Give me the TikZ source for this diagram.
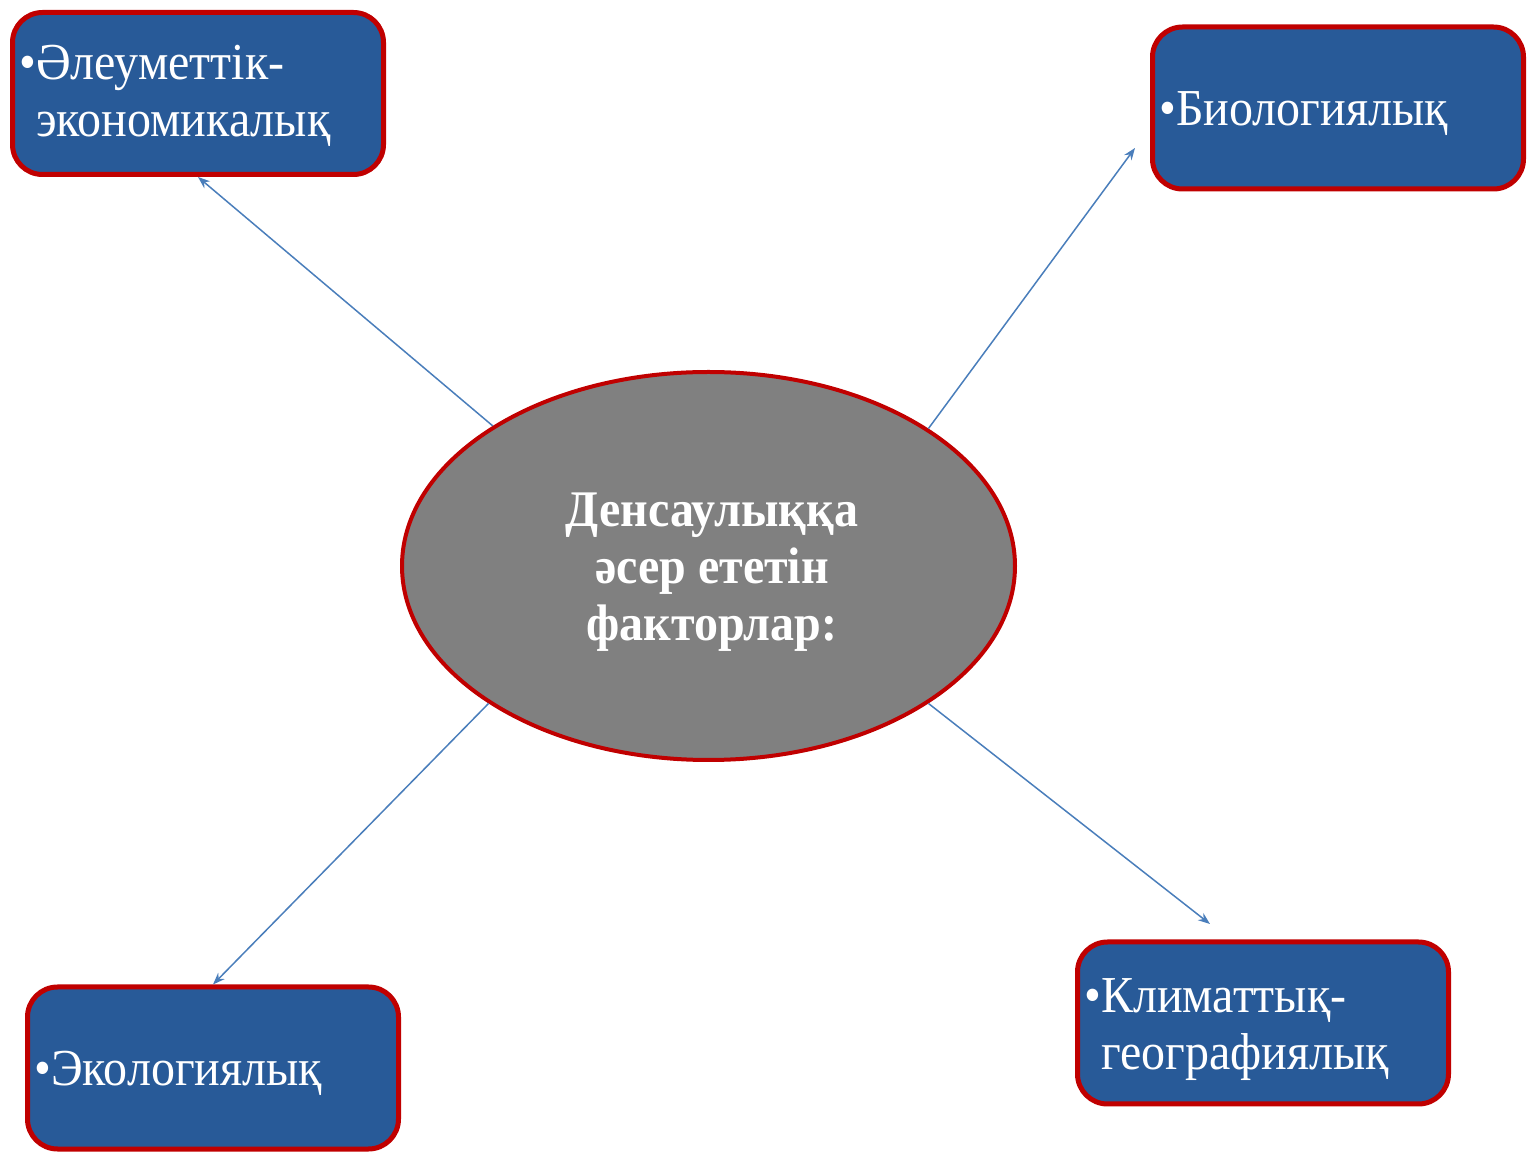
\documentclass[tikz,border=0pt]{standalone}
\usepackage{fontspec}
\setmainfont{Liberation Serif}
\usetikzlibrary{arrows.meta,shapes.geometric}
\definecolor{boxblue}{HTML}{285A98}
\definecolor{boxred}{HTML}{C00000}
\definecolor{ellgray}{HTML}{808080}
\definecolor{linkblue}{HTML}{4A7EBB}
\newcommand{\boxlines}[1]{\scalebox{1}[1.08]{\begin{tabular}[t]{@{}l@{}}#1\end{tabular}}}
\newcommand{\midlines}[1]{\scalebox{1}[1.07]{\begin{tabular}[t]{@{}c@{}}#1\end{tabular}}}
\tikzset{
  factor/.style={draw=boxred, line width=2.5pt, fill=boxblue, rounded corners=15pt,
    minimum width=185.5pt, minimum height=81pt, inner sep=0pt},
  factortext/.style={anchor=base west, inner sep=0pt, text=white,
    font=\fontsize{24}{26}\selectfont},
  centre/.style={ellipse, draw=boxred, line width=2pt, fill=ellgray,
    minimum width=306.5pt, minimum height=194pt, inner sep=0pt},
  centretext/.style={anchor=base, inner sep=0pt, text=white,
    font=\fontsize{24}{26.6}\selectfont\bfseries},
  link/.style={draw=linkblue, line width=0.75pt, -{Stealth[length=6pt,width=4.5pt]}}
}
\begin{document}
\begin{tikzpicture}[x=0.5pt,y=-0.5pt]
\useasboundingbox (0,0) rectangle (1528,1154);
\node[factor] (b1) at (198,93.5) {};
\node[factor] (b2) at (1338,108) {};
\node[factor] (b3) at (213,1068) {};
\node[factor] (b4) at (1263,1023) {};
\node[factortext] (l1) at (19,80) {\boxlines{\textbullet Әлеуметтік-\\\phantom{\textbullet}экономикалық}};
\node[factortext] (l2) at (1159,126) {\boxlines{\textbullet Биологиялық}};
\node[factortext] (l3) at (34,1086) {\boxlines{\textbullet Экологиялық}};
\node[factortext] (l4) at (1084,1013) {\boxlines{\textbullet Климаттық-\\\phantom{\textbullet}географиялық}};
\node[centre] (e) at (708.5,566) {};
\node[centretext] (lc) at (712,527) {\midlines{Денсаулыққа\\әсер ететін\\факторлар:}};
\coordinate (t2) at (1135,148);
\coordinate (t4) at (1210,924);
\draw[link] (e.147.4) -- (b1.south);
\draw[link] (e.32.3) -- (t2);
\draw[link] (e.212.5) -- (b3.north);
\draw[link] (e.-32.3) -- (t4);
\end{tikzpicture}
\end{document}
